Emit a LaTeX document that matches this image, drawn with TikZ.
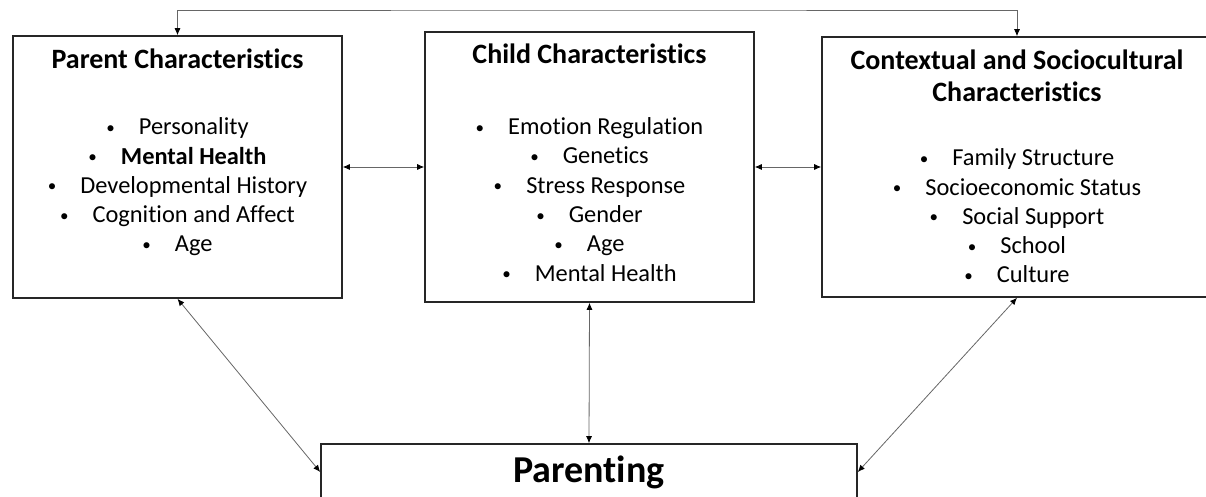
\documentclass[tikz,border=0pt]{standalone}
\usepackage{fontspec}
\setmainfont{Carlito}[Ligatures=NoCommon]
\usepackage{tikz}
\usetikzlibrary{arrows.meta}
\tikzset{%
    box/.style={draw=black!85, line width=0.8pt, inner sep=0pt},
    link/.style={draw=black!60, line width=0.4pt,
        {Latex[length=3.5pt,width=3pt,color=black]}-{Latex[length=3.5pt,width=3pt,color=black]}},
    head/.style={font=\fontsize{14}{16}\selectfont\bfseries, align=center},
    items/.style={font=\fontsize{12.2}{14.65}\selectfont, align=center}
}
\newcommand{\itm}[1]{\raisebox{0.7pt}{\scalebox{0.7}{\textbullet}}\hspace{12pt}#1}

\begin{document}
\begin{tikzpicture}[x=0.5pt, y=-0.5pt]
    \useasboundingbox (0,0) rectangle (1206,497);
    % boxes
    \node[box, minimum width=164.5pt, minimum height=131pt] (parent) at (177.5,167) {};
    \node[box, minimum width=164.5pt, minimum height=135pt] (child) at (589.5,167) {};
    \node[box, minimum width=195pt, minimum height=130pt] (context) at (1017,167) {};
    \node[box, minimum width=268pt, minimum height=28pt,
        font=\fontsize{19}{21}\selectfont\bfseries] (parenting) at (589,472) {Parenting};
    % titles
    \node[head] (parenttitle) at (177.5,59) {Parent Characteristics};
    \node[head] (childtitle) at (589.5,54) {Child Characteristics};
    \node[head] (contexttitle) at (1017,76) {Contextual and Sociocultural\\Characteristics};
    % lists
    \node[items] (parentlist) at (177.5,187) {\itm{Personality}\\\itm{\textbf{Mental Health}}\\
        \itm{Developmental History}\\\itm{Cognition and Affect}\\\itm{Age}};
    \node[items] (childlist) at (589.5,199.5) {\itm{Emotion Regulation}\\\itm{Genetics}\\
        \itm{Stress Response}\\\itm{Gender}\\\itm{Age}\\\itm{Mental Health}};
    \node[items] (contextlist) at (1017,216) {\itm{Family Structure}\\\itm{Socioeconomic Status}\\
        \itm{Social Support}\\\itm{School}\\\itm{Culture}};
    % connectors
    \coordinate (topline) at (600,10);
    \draw[link] (parent.north) |- (topline) -| (context.north);
    \foreach \a/\b in {parent.east/child.west, child.east/context.west,
        child.south/parenting.north, parent.south/parenting.west, context.south/parenting.east}
    {
    \draw[link] (\a) -- (\b);
    }
\end{tikzpicture}
\end{document}
